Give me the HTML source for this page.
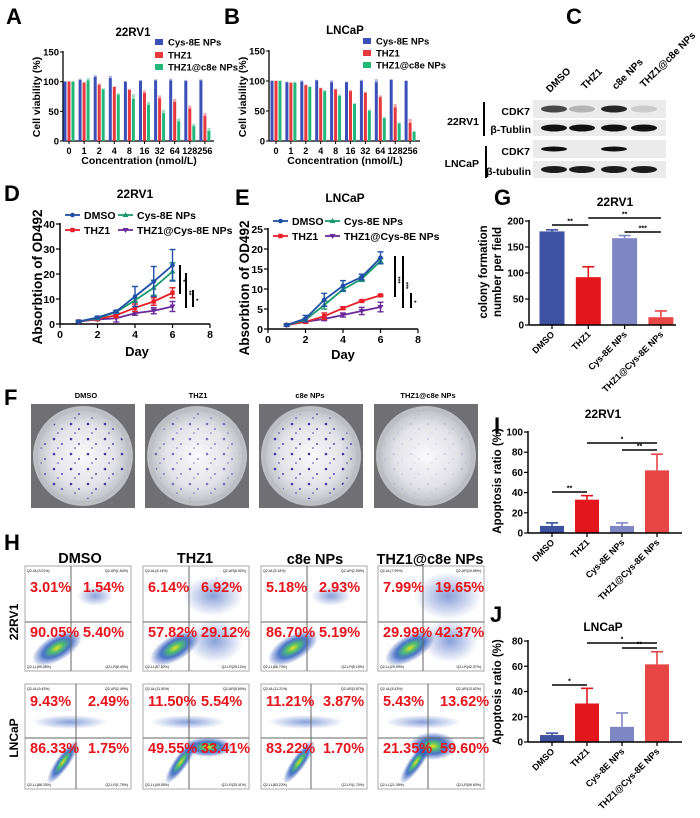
<!DOCTYPE html>
<html><head><meta charset="utf-8"><style>
html,body{margin:0;padding:0;background:#fff;}
svg{display:block;font-family:"Liberation Sans",sans-serif;font-weight:bold;}
</style></head><body>
<svg id="fig" width="700" height="818" viewBox="0 0 700 818" xmlns="http://www.w3.org/2000/svg">
<defs>
<radialGradient id="dens"><stop offset="0" stop-color="#e8e020"/><stop offset="0.25" stop-color="#50c070"/><stop offset="0.55" stop-color="#2a5cc0" stop-opacity="0.85"/><stop offset="1" stop-color="#2a4ab0" stop-opacity="0"/></radialGradient>
<radialGradient id="faint"><stop offset="0" stop-color="#3a60c0" stop-opacity="0.6"/><stop offset="1" stop-color="#3a60c0" stop-opacity="0"/></radialGradient>
<radialGradient id="dish"><stop offset="0" stop-color="#fafafc"/><stop offset="0.7" stop-color="#e2e2e8"/><stop offset="1" stop-color="#c4c4cc"/></radialGradient>
<pattern id="colDots" width="17" height="15" patternUnits="userSpaceOnUse"><circle cx="3" cy="4" r="1.3" fill="#4a3aa0"/><circle cx="11" cy="9" r="1" fill="#5a4ab0"/><circle cx="7" cy="13" r="0.8" fill="#4a3aa0"/></pattern>
</defs>

<!-- panel letters -->
<text x="6" y="24" font-size="22">A</text>
<text x="224" y="24" font-size="22">B</text>
<text x="566" y="24" font-size="22">C</text>
<text x="4" y="201" font-size="22">D</text>
<text x="235" y="205" font-size="22">E</text>
<text x="494" y="205" font-size="22">G</text>
<text x="4" y="405" font-size="22">F</text>
<text x="494" y="433" font-size="22">I</text>
<text x="4" y="550" font-size="22">H</text>
<text x="490" y="622" font-size="22">J</text>

<!-- chart titles -->
<text x="133" y="36" font-size="11.5" text-anchor="middle">22RV1</text>
<text x="345" y="34" font-size="11.5" text-anchor="middle">LNCaP</text>
<text x="135" y="198" font-size="12" text-anchor="middle">22RV1</text>
<text x="345" y="202" font-size="12" text-anchor="middle">LNCaP</text>
<text x="615" y="206" font-size="12" text-anchor="middle">22RV1</text>
<text x="603" y="418" font-size="12" text-anchor="middle">22RV1</text>
<text x="603" y="631" font-size="12" text-anchor="middle">LNCaP</text>

<!-- axis titles -->
<text x="139" y="164" font-size="10.5" text-anchor="middle">Concentration (nmol/L)</text>
<text x="345" y="164" font-size="10.5" text-anchor="middle">Concentration (nmol/L)</text>
<text transform="translate(40,97) rotate(-90)" font-size="10.5" text-anchor="middle">Cell viability (%)</text>
<text transform="translate(246,97) rotate(-90)" font-size="10.5" text-anchor="middle">Cell viability (%)</text>
<text transform="translate(42,277) rotate(-90)" font-size="13.5" text-anchor="middle">Absorbtion of OD492</text>
<text transform="translate(249,288) rotate(-90)" font-size="13.5" text-anchor="middle">Absorbtion of OD492</text>
<text x="137" y="356" font-size="13" text-anchor="middle">Day</text>
<text x="343" y="359" font-size="13" text-anchor="middle">Day</text>
<text transform="translate(487,272) rotate(-90)" font-size="11.5" text-anchor="middle">colony formation</text>
<text transform="translate(501,272) rotate(-90)" font-size="11.5" text-anchor="middle">number per field</text>
<text transform="translate(501,481) rotate(-90)" font-size="11.5" text-anchor="middle">Apoptosis ratio (%)</text>
<text transform="translate(501,692) rotate(-90)" font-size="11.5" text-anchor="middle">Apoptosis ratio (%)</text>

<!-- Panel C western blot static labels -->
<g font-size="10">
<text transform="translate(550,93) rotate(-45)">DMSO</text>
<text transform="translate(585,90) rotate(-45)">THZ1</text>
<text transform="translate(616,90) rotate(-45)">c8e NPs</text>
<text transform="translate(644,88) rotate(-45)">THZ1@c8e NPs</text>
</g>
<g font-size="10.5" text-anchor="end">
<text x="479" y="125">22RV1</text>
<text x="479" y="167">LNCaP</text>
<text x="530" y="115">CDK7</text>
<text x="531" y="133">β-Tublin</text>
<text x="530" y="155">CDK7</text>
<text x="531" y="175">β-tubulin</text>
</g>
<line x1="484" y1="102" x2="484" y2="136" stroke="#000" stroke-width="2"/>
<line x1="486" y1="146" x2="486" y2="178" stroke="#000" stroke-width="2"/>

<!-- F titles -->
<g font-size="7.5" text-anchor="middle">
<text x="86" y="398">DMSO</text>
<text x="198" y="398">THZ1</text>
<text x="310" y="398">c8e NPs</text>
<text x="428" y="398">THZ1@c8e NPs</text>
</g>
<!-- H titles -->
<g font-size="14.5" text-anchor="middle">
<text x="80" y="563">DMSO</text>
<text x="195" y="563">THZ1</text>
<text x="315" y="564">c8e NPs</text>
<text x="430" y="564">THZ1@c8e NPs</text>
</g>
<text transform="translate(18,622) rotate(-90)" font-size="12" text-anchor="middle">22RV1</text>
<text transform="translate(18,738) rotate(-90)" font-size="12" text-anchor="middle">LNCaP</text>
</svg>

<script>
// ---------- DATA ----------
const concCats=['0','1','2','4','8','16','32','64','128','256'];
const aCys=[100,103,108,106,100,101,102,102,101,102];
const aThz=[100,98,95,91,86,81,72,66,55,42];
const aNP=[100,102,87,78,71,61,47,33,25,17];
const aCysErr=[1,2,3,4,1,2,2,3,2,2];
const aThzErr=[1,2,2,1,2,4,5,5,5,5];
const aNPErr=[1,4,2,3,8,5,6,5,4,5];
const bCys=[100,98,99,101,98,98,100,98,102,100];
const bThz=[100,97,93,88,86,83,80,73,56,30];
const bNP=[100,97,90,83,75,62,50,38,29,15];
const bCysErr=[1,1,2,1,3,1,2,5,1,1];
const bThzErr=[1,1,1,1,1,2,2,3,6,7];
const bNPErr=[1,2,1,2,3,1,3,2,2,2];
const vialTicks=[0,50,100,150];

const days=[1,2,3,4,5,6];
const dDMSO=[1,2.6,5,11,17,23.5];
const dCys=[1,2.3,4.8,9.5,14.5,21];
const dThz=[1,2,3.5,6.5,9,12.5];
const dNP=[1,1.8,2.3,4.3,5.3,7];
const dDMSOErr=[0.5,0.5,0.5,4,6,6.3];
const dCysErr=[0.3,0.3,0.5,0.8,3,3.5];
const dThzErr=[0.4,0.4,1,1.5,1.5,2];
const dNPErr=[0.3,0.4,1.5,0.8,1.2,2];
const eDMSO=[1,2.6,7.3,10.8,13,17.8];
const eCys=[1,2.3,6,9.9,12.5,17];
const eThz=[1,1.8,3.2,5.2,7,8.4];
const eNP=[1,1.8,2.5,3.5,4.5,5.5];
const eDMSOErr=[0.3,0.8,1.6,1.3,0.7,1.5];
const eCysErr=[0.2,0.4,1,0.5,0.6,0.6];
const eThzErr=[0.2,0.3,0.8,0.3,0.2,0.2];
const eNPErr=[0.2,0.3,0.4,0.5,0.9,1.2];
const dayTicks=[0,2,4,6,8];
const dTicks=[0,10,20,30,40];
const eTicks=[0,5,10,15,20,25];

const treatCats=['DMSO','THZ1','Cys-8E NPs','THZ1@Cys-8E NPs'];
const gVals=[180,92,167,15];
const gErr=[3,20,5,12];
const gTicks=[0,50,100,150,200];
const iVals=[7,33,7,62];
const iErr=[3,4,3,16];
const iTicks=[0,20,40,60,80,100];
const jVals=[5.5,30.5,12,61.5];
const jErr=[1.5,12,11,10];
const jTicks=[0,20,40,60,80];

const flowLL=[['90.05%','57.82%','86.70%','29.99%'],['86.33%','49.55%','83.22%','21.35%']];
const flowLR=[['5.40%','29.12%','5.19%','42.37%'],['1.75%','33.41%','1.70%','59.60%']];
const flowUL=[['3.01%','6.14%','5.18%','7.99%'],['9.43%','11.50%','11.21%','5.43%']];
const flowUR=[['1.54%','6.92%','2.93%','19.65%'],['2.49%','5.54%','3.87%','13.62%']];

// ---------- HELPERS ----------
const NS='http://www.w3.org/2000/svg';
const svg=document.getElementById('fig');
function mk(tag,attrs,parent){const e=document.createElementNS(NS,tag);for(const k in attrs)e.setAttribute(k,attrs[k]);(parent||svg).appendChild(e);return e;}
function tx(x,y,s,attrs,parent){const e=mk('text',Object.assign({x:x,y:y},attrs||{}),parent);e.textContent=s;return e;}
function lin(x1,y1,x2,y2,c,w,parent){return mk('line',{x1:x1,y1:y1,x2:x2,y2:y2,stroke:c||'#000','stroke-width':w||1},parent);}

// ---------- A & B viability ----------
function viability(cfg){
  const g=mk('g',{});
  
  
  const y=v=>cfg.y0-v*(cfg.y0-cfg.y150)/150;
  const xc=i=>cfg.x0+i*cfg.step;
  lin(cfg.ax,cfg.y150-1,cfg.ax,cfg.y0,'#000',1.3,g);
  lin(cfg.ax,cfg.y0,cfg.axEnd,cfg.y0,'#000',1.3,g);
  vialTicks.forEach(t=>{lin(cfg.ax-3,y(t),cfg.ax,y(t),'#000',1,g);
    const l=tx(cfg.ax-4,y(t)+3.5,String(t),{'font-size':9.5,'text-anchor':'end'},g);
    
    });
  const series=[[cfg.s1,cfg.e1,'#3b4fb8',-4],[cfg.s2,cfg.e2,'#e8383d',0],[cfg.s3,cfg.e3,'#20b87a',4]];
  concCats.forEach((c,i)=>{
    lin(xc(i),cfg.y0,xc(i),cfg.y0+3,'#000',1,g);
    const l=tx(xc(i),cfg.y0+13,c,{'font-size':9,'text-anchor':'middle'},g);
    
    
    series.forEach(s=>{
      const v=s[0][i],bx=xc(i)+s[3]-1.5;
      const r=mk('rect',{x:bx,y:y(v),width:3,height:cfg.y0-y(v),fill:s[2]},g);
      
      
      const ey=y(v+s[1][i]);
      mk('rect',{x:bx,y:ey,width:3,height:y(v)-ey,fill:s[2],opacity:0.45},g);
    });
  });
  const labels=['Cys-8E NPs','THZ1',cfg.l3];
  series.forEach((s,k)=>{
    const ly=cfg.ly[k];
    const sw=mk('rect',{x:cfg.lx,y:ly-4,width:8,height:6,fill:s[2]},g);
    
    
    const l=tx(cfg.lx+13,ly+2.5,labels[k],{'font-size':9.5},g);
    
    
  });
}
viability({name:'chart-a-viability',ax:63,axEnd:214,y0:141,y150:52,x0:69,step:15.1,s1:aCys,s2:aThz,s3:aNP,e1:aCysErr,e2:aThzErr,e3:aNPErr,lx:155,ly:[43,56,68],l3:'THZ1@c8e NPs'});
viability({name:'chart-b-viability',ax:269,axEnd:420,y0:141,y150:51,x0:276,step:14.9,s1:bCys,s2:bThz,s3:bNP,e1:bCysErr,e2:bThzErr,e3:bNPErr,lx:363,ly:[42,54,66],l3:'THZ1@c8e NPs'});

// ---------- D & E growth ----------
function marker(type,x,y,c,g){
  if(type==='circle')return mk('circle',{cx:x,cy:y,r:2.3,fill:c},g);
  if(type==='square')return mk('rect',{x:x-2.2,y:y-2.2,width:4.4,height:4.4,fill:c},g);
  if(type==='up')return mk('polygon',{points:`${x},${y-3} ${x-3},${y+2} ${x+3},${y+2}`,fill:c},g);
  return mk('polygon',{points:`${x},${y+3} ${x-3},${y-2} ${x+3},${y-2}`,fill:c},g);
}
function growth(cfg){
  const g=mk('g',{});
  
  
  const ymax=cfg.ticks[cfg.ticks.length-1];
  const y=v=>cfg.y0-v*(cfg.y0-cfg.yTop)/ymax;
  const x=d=>cfg.ax+d*(cfg.x8-cfg.ax)/8;
  lin(cfg.ax,cfg.yTop-1,cfg.ax,cfg.y0,'#000',1.5,g);
  lin(cfg.ax,cfg.y0,cfg.x8,cfg.y0,'#000',1.5,g);
  cfg.ticks.forEach(t=>{lin(cfg.ax-4,y(t),cfg.ax,y(t),'#000',1.2,g);
    const l=tx(cfg.ax-5,y(t)+4,String(t),{'font-size':10.5,'text-anchor':'end'},g);
    
    });
  dayTicks.forEach(t=>{lin(x(t),cfg.y0,x(t),cfg.y0+4,'#000',1.2,g);
    const l=tx(x(t),cfg.y0+14,String(t),{'font-size':10.5,'text-anchor':'middle'},g);
    
    });
  const ser=[[cfg.nP,cfg.nPe,'#6a2a9a','down'],[cfg.th,cfg.the,'#e8202a','square'],[cfg.cy,cfg.cye,'#1a9a6c','up'],[cfg.dm,cfg.dme,'#1f4fa8','circle']];
  ser.forEach(s=>{
    const pts=days.map((d,i)=>x(d)+','+y(s[0][i])).join(' ');
    const pl=mk('polyline',{points:pts,fill:'none',stroke:s[2],'stroke-width':1.8},g);
    
    
    days.forEach((d,i)=>{
      const v=s[0][i],e=s[1][i];
      lin(x(d),y(v+e),x(d),y(v-e),s[2],1.4,g);
      lin(x(d)-3,y(v+e),x(d)+3,y(v+e),s[2],1.4,g);
      lin(x(d)-3,y(v-e),x(d)+3,y(v-e),s[2],1.4,g);
      const m=marker(s[3],x(d),y(v),s[2],g);
      
      
    });
  });
  const leg=[['DMSO','#1f4fa8','circle',0,0],['Cys-8E NPs','#1a9a6c','up',1,0],['THZ1','#e8202a','square',0,1],['THZ1@Cys-8E NPs','#6a2a9a','down',1,1]];
  leg.forEach(l=>{
    const lx=cfg.lx[l[3]],ly=cfg.ly+l[4]*15;
    lin(lx,ly,lx+15,ly,l[1],1.8,g);
    marker(l[2],lx+7.5,ly,l[1],g);
    const t=tx(lx+19,ly+4,l[0],{'font-size':10.5},g);
    
    
  });
  cfg.sig.forEach(s=>{lin(s[0],s[1],s[0],s[2],'#000',2,g);
    tx(s[0]+3,(s[1]+s[2])/2+2,s[3],{'font-size':6,transform:`rotate(90 ${s[0]+3} ${(s[1]+s[2])/2})`},g);});
}
growth({name:'chart-d-growth',ax:60,x8:210,y0:324,yTop:224,ticks:dTicks,dm:dDMSO,dme:dDMSOErr,cy:dCys,cye:dCysErr,th:dThz,the:dThzErr,nP:dNP,nPe:dNPErr,lx:[65,118],ly:215,sig:[[180,265,294,'*'],[186,273,308,'**'],[193,290,307,'*']]});
growth({name:'chart-e-growth',ax:268,x8:418,y0:329,yTop:229,ticks:eTicks,dm:eDMSO,dme:eDMSOErr,cy:eCys,cye:eCysErr,th:eThz,the:eThzErr,nP:eNP,nPe:eNPErr,lx:[273,325],ly:221,sig:[[395,256,297,'***'],[403,256,308,'***'],[411,293,308,'*']]});

// ---------- G, I, J bar charts ----------
const barColors=['#3d52a1','#e3161c','#7f86c4','#e84545'];
function bars(cfg){
  const g=mk('g',{});
  
  
  const ymax=cfg.ticks[cfg.ticks.length-1];
  const y=v=>cfg.y0-v*(cfg.y0-cfg.yTop)/ymax;
  const xc=i=>cfg.x0+i*cfg.step;
  treatCats.forEach((c,i)=>{
    const v=cfg.vals[i],e=cfg.err[i];
    lin(xc(i),y(v),xc(i),y(v+e),barColors[i],1.6,g);
    lin(xc(i)-6,y(v+e),xc(i)+6,y(v+e),barColors[i],1.6,g);
    const r=mk('rect',{x:xc(i)-cfg.bw/2,y:y(v),width:cfg.bw,height:cfg.y0-y(v),fill:barColors[i]},g);
    
    
    lin(xc(i),cfg.y0,xc(i),cfg.y0+4,'#000',1.3,g);
    const l=tx(xc(i)+3,cfg.y0+10,c,{'font-size':9,'text-anchor':'end',transform:`rotate(-45 ${xc(i)+3} ${cfg.y0+10})`},g);
    
    
  });
  lin(cfg.ax,cfg.yTop-1,cfg.ax,cfg.y0,'#000',1.5,g);
  lin(cfg.ax,cfg.y0,cfg.axEnd,cfg.y0,'#000',1.5,g);
  cfg.ticks.forEach(t=>{lin(cfg.ax-4,y(t),cfg.ax,y(t),'#000',1.2,g);
    const l=tx(cfg.ax-5,y(t)+3.5,String(t),{'font-size':10,'text-anchor':'end'},g);
    
    });
  cfg.sig.forEach(s=>{lin(xc(s[0]),s[2],xc(s[1]),s[2],'#000',1.6,g);
    tx((xc(s[0])+xc(s[1]))/2,s[2]-1.5,s[3],{'font-size':7,'text-anchor':'middle'},g);});
}
bars({name:'chart-g-colony',ax:529,axEnd:676,y0:325,yTop:221,x0:552,step:36.3,bw:25,ticks:gTicks,vals:gVals,err:gErr,sig:[[0,1,225,'**'],[1,3,218,'**'],[2,3,232,'***']]});
bars({name:'chart-i-apoptosis',ax:528,axEnd:682,y0:533,yTop:432,x0:552,step:35,bw:24,ticks:iTicks,vals:iVals,err:iErr,sig:[[0,1,492,'**'],[1,3,443,'*'],[2,3,450,'**']]});
bars({name:'chart-j-apoptosis',ax:528,axEnd:682,y0:742,yTop:641,x0:552,step:35,bw:24,ticks:jTicks,vals:jVals,err:jErr,sig:[[0,1,685,'*'],[1,3,643,'*'],[2,3,648,'**']]});

// ---------- C western blot ----------
const blotRows=[[100,118],[120,136],[140,158],[161,178]];
const blotInt=[[0.75,0.25,0.9,0.15],[1,1,1,1],[1,0,1,0],[0.95,0.95,0.95,0.95]];
const laneX=[554,582,614,644];
blotRows.forEach((r,ri)=>{
  const bg=mk('rect',{x:533,y:r[0],width:133,height:r[1]-r[0],fill:'#ebebeb'});
  
  
  laneX.forEach((lx,li)=>{
    const a=blotInt[ri][li];
    if(a>0){const b=mk('ellipse',{cx:lx,cy:(r[0]+r[1])/2,rx:13,ry:ri===2?2.5:3.5,fill:'#111','fill-opacity':a});
      
      }
  });
});

// ---------- F colony dishes ----------
const dishX=[31,145,259,374];
const dishDens=[1,0.65,1,0.12];
dishX.forEach((dx,i)=>{
  const g=mk('g',{});
  
  
  mk('rect',{x:dx,y:404,width:104,height:104,fill:'#707074'},g);
  mk('circle',{cx:dx+52,cy:456,r:50,fill:'#bdbdc4'},g);
  mk('circle',{cx:dx+52,cy:456,r:45,fill:'url(#dish)'},g);
  mk('circle',{cx:dx+52,cy:456,r:43,fill:'url(#colDots)','fill-opacity':dishDens[i]},g);
});

// ---------- H flow cytometry ----------
const colX=[25,143,261,378];
const rowY=[566,684];
const divX=[[46,46,46,45],[51,46,50,50]];
colX.forEach((cx,ci)=>{rowY.forEach((ry,ri)=>{
  const g=mk('g',{});
  
  
  const w=106,h=105,vx=cx+divX[ri][ci],hy=ry+(ri===0?56:54);
  mk('rect',{x:cx,y:ry,width:w,height:h,fill:'#fff',stroke:'#aaa','stroke-width':1},g);
  // density blobs
  if(ri===0){
    mk('ellipse',{cx:cx+32,cy:ry+82,rx:28,ry:13,fill:'url(#dens)',transform:`rotate(-30 ${cx+32} ${ry+82})`},g);
    mk('ellipse',{cx:cx+70,cy:ry+30,rx:[18,30,20,34][ci],ry:[10,20,10,24][ci],fill:'url(#faint)'},g);
    if(ci===1||ci===3)mk('ellipse',{cx:cx+72,cy:ry+75,rx:28,ry:22,fill:'url(#faint)'},g);
  }else{
    mk('ellipse',{cx:cx+38,cy:ry+78,rx:26,ry:7,fill:'url(#dens)',transform:`rotate(-55 ${cx+38} ${ry+78})`},g);
    mk('ellipse',{cx:cx+45,cy:ry+38,rx:38,ry:7,fill:'url(#faint)'},g);
    if(ci===1)mk('ellipse',{cx:cx+65,cy:ry+63,rx:25,ry:10,fill:'url(#dens)'},g);
    if(ci===3)mk('ellipse',{cx:cx+55,cy:ry+62,rx:24,ry:14,fill:'url(#dens)'},g);
  }
  lin(vx,ry,vx,ry+h,'#666',1,g);
  lin(cx,hy,cx+w,hy,'#666',1,g);
  const tAttrs={'font-size':14.5,fill:'#e8141c'};
  const t1=tx(cx+5,ry+(ri===0?26:22),flowUL[ri][ci],tAttrs,g);
  
  
  const t2=tx(vx+12,ry+(ri===0?26:22),flowUR[ri][ci],tAttrs,g);
  
  
  const t3=tx(cx+5,ry+(ri===0?71:69),flowLL[ri][ci],tAttrs,g);
  
  
  const t4=tx(vx+12,ry+(ri===0?71:69),flowLR[ri][ci],tAttrs,g);
  
  
  tx(cx+2,ry+6,'Q2-UL('+flowUL[ri][ci]+')',{'font-size':3.5,'font-weight':'normal'},g);
  tx(cx+w-3,ry+6,'Q2-UR('+flowUR[ri][ci]+')',{'font-size':3.5,'font-weight':'normal','text-anchor':'end'},g);
  tx(cx+2,ry+h-3,'Q2-LL('+flowLL[ri][ci]+')',{'font-size':3.5,'font-weight':'normal'},g);
  tx(cx+w-3,ry+h-3,'Q2-LR('+flowLR[ri][ci]+')',{'font-size':3.5,'font-weight':'normal','text-anchor':'end'},g);
});});
</script>
</body></html>
